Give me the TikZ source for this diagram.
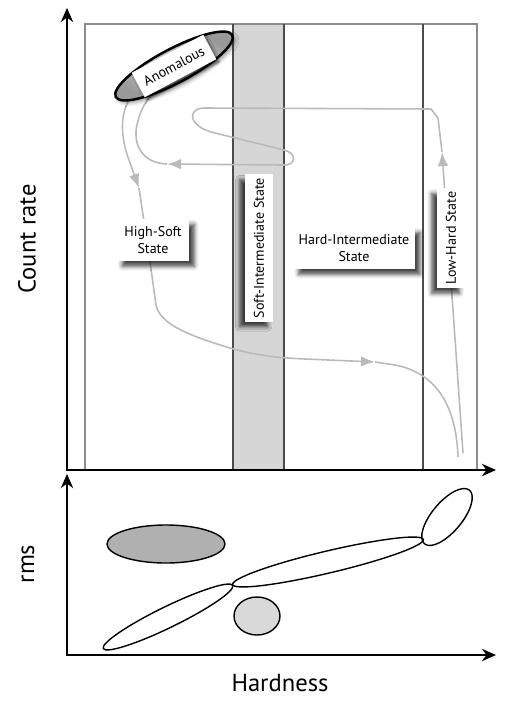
\documentclass[tikz,border=0pt]{standalone}
\usepackage{fontspec}
\setmainfont{PT Sans}
\usetikzlibrary{arrows.meta, shadows, shadows.blur}

\begin{document}
\begin{tikzpicture}[x=0.02cm, y=0.02cm,
  axisline/.style={line width=1.6pt, {Stealth[length=8pt, width=7pt]}-{Stealth[length=8pt, width=7pt]}},
  frameline/.style={draw=gray!90, line width=0.6pt},
  divline/.style={draw=black!70, line width=0.8pt},
  track/.style={draw=black!27, line width=0.9pt},
  trackarrow/.style={track, -{Latex[length=8pt, width=6pt]}},
  boxbase/.style={fill=white, font=\fontsize{8}{10}\selectfont, align=center, inner xsep=3pt, inner ysep=4pt},
  hstate/.style={boxbase, blur shadow={shadow xshift=3pt, shadow yshift=-3pt, shadow blur radius=2.5pt, shadow opacity=75}},
  vstate/.style={boxbase, rotate=90, inner xsep=2pt, inner ysep=5pt, blur shadow={shadow xshift=-3pt, shadow yshift=-3pt, shadow blur radius=2.5pt, shadow opacity=75}},
  blob/.style={draw=black, line width=0.8pt},
  axislabel/.style={font=\fontsize{14}{16}\selectfont}
]
\useasboundingbox (0,0) rectangle (519,-708);

% state regions
\fill[gray!32] (233,-24) rectangle (284,-470);
\draw[frameline] (85,-470) -- (85,-24) -- (477,-24) -- (477,-470);
\draw[divline] (233,-24) -- (233,-470);
\draw[divline] (284,-24) -- (284,-470);
\draw[divline] (423,-24) -- (423,-470);

% track points
\coordinate (lhfoot) at (463,-453);
\coordinate (lhtip) at (442,-152);
\coordinate (loopstart) at (205,-108);
\coordinate (backtip) at (167,-164);
\coordinate (anomin) at (157,-90);
\coordinate (anomout) at (131,-97);
\coordinate (hstip) at (139,-188);
\coordinate (hsout) at (150,-262);
\coordinate (hardtip) at (375,-362);
\coordinate (hardfoot) at (458,-457);

% rise along the hard state, loop back to the anomalous branch
\draw[trackarrow] (lhfoot) -- (lhtip);
\draw[track] (lhtip) -- (438,-118) -- (431,-109) -- (loopstart)
  .. controls (186,-108) and (188,-127) .. (215,-133)
  -- (284,-150) .. controls (297,-153) and (297,-166) .. (282,-165);
\draw[trackarrow] (282,-165) -- (backtip);
\draw[track] (backtip) .. controls (140,-163) and (133,-142) .. (137,-125)
  .. controls (140,-110) and (147,-98) .. (anomin);

% down through the soft state and over to the hard side
\draw[trackarrow] (anomout) .. controls (120,-112) and (120,-136) .. (129,-160) -- (hstip);
\draw[track] (hstip) -- (hsout) -- (156,-305)
  .. controls (160,-322) and (180,-333) .. (230,-348)
  .. controls (262,-357) and (285,-358) .. (305,-359);
\draw[trackarrow] (305,-359) -- (hardtip);
\draw[track] (hardtip) -- (395,-365) .. controls (432,-372) and (456,-400) .. (hardfoot);

% state labels
\node[hstate, minimum width=72*0.02cm] (highsoft) at (153,-240) {High-Soft\\State};
\node[hstate] (hardint) at (354,-248) {Hard-Intermediate\\State};
\node[vstate] (softint) at (259,-248) {Soft-Intermediate State};
\node[vstate] (lowhard) at (451,-238) {Low-Hard State};

% anomalous branch
\begin{scope}[shift={(174,-66)}, rotate=28]
  \draw[line width=1.4pt, inner color=gray!25, outer color=gray!80,
    blur shadow={shadow xshift=1.5pt, shadow yshift=-1.5pt, shadow blur radius=2pt, shadow opacity=40}]
    (0,0) ellipse (66 and 17);
\end{scope}
\node[boxbase, rotate=28, inner xsep=4pt, inner ysep=5pt,
  blur shadow={shadow xshift=1.5pt, shadow yshift=-1.5pt, shadow blur radius=1.5pt, shadow opacity=60}] (anom) at (174,-66) {Anomalous};

% axes
\draw[axisline] (67,-8) -- (67,-470) -- (496,-470);
\draw[axisline] (67,-474) -- (67,-655) -- (496,-655);

% rms against hardness
\draw[blob, fill=gray!62] (166,-544) ellipse (59 and 19);
\draw[blob, fill=gray!30] (257,-616) ellipse (23 and 19);
\draw[blob, rotate around={26:(168,-617)}] (168,-617) ellipse (72 and 10.5);
\draw[blob, rotate around={13.3:(328,-562)}] (328,-562) ellipse (98 and 11);
\draw[blob, rotate around={50:(447,-517)}] (447,-517) ellipse (35 and 15);

% axis labels
\node[axislabel, rotate=90] (countrate) at (27,-239) {Count rate};
\node[axislabel, rotate=90] (rms) at (28,-564) {rms};
\node[axislabel] (hardness) at (280,-683) {Hardness};
\end{tikzpicture}
\end{document}
